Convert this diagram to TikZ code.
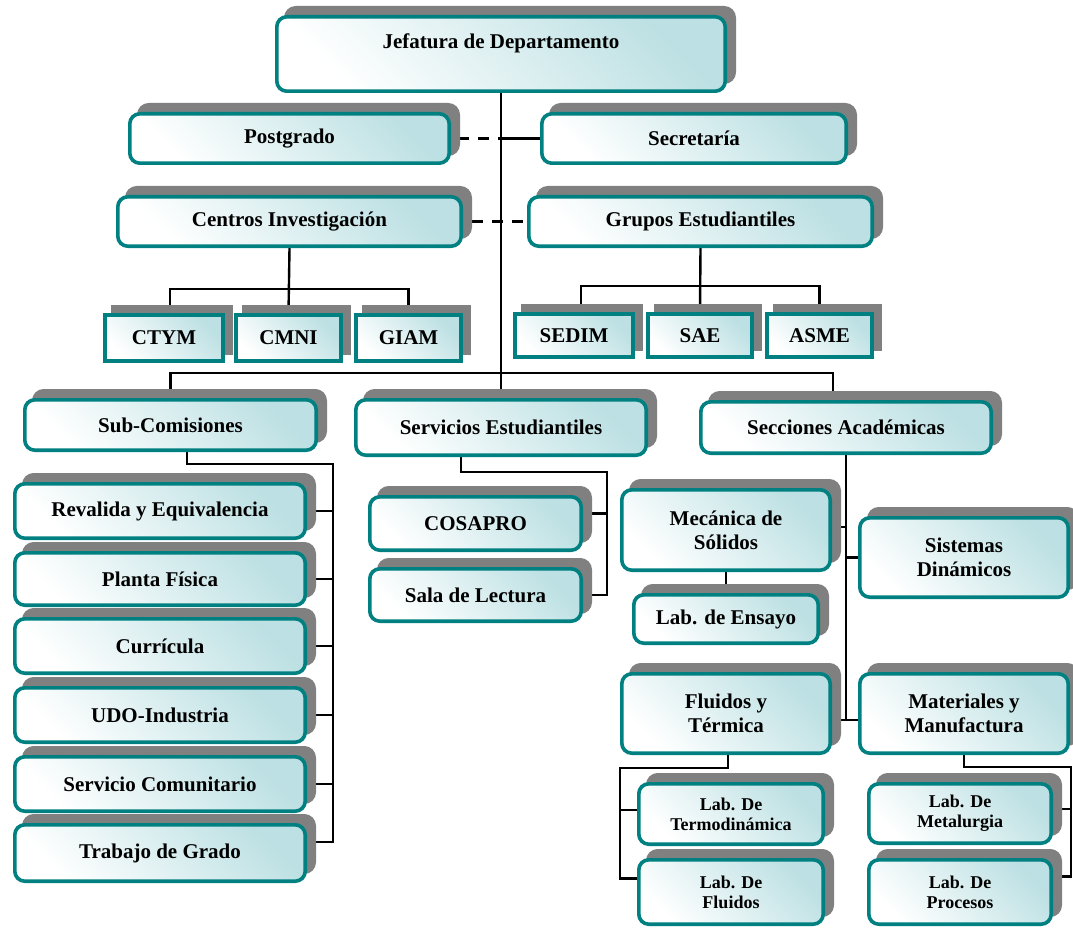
\documentclass[tikz,border=0pt]{standalone}
\usepackage{fontspec}
\setmainfont{Liberation Serif}
\usetikzlibrary{shadows}
\definecolor{tealb}{RGB}{0,128,128}
\definecolor{cyanl}{RGB}{188,224,227}
\definecolor{shgray}{RGB}{128,128,128}
\pgfdeclarelayer{back}\pgfdeclarelayer{bg}\pgfsetlayers{back,bg,main}
\tikzset{
 boxbase/.style={draw=tealb, line width=3.6pt, top color=cyanl, bottom color=white, shading angle=-45,
   inner sep=0pt, align=center, font=\bfseries\fontsize{21}{24}\selectfont},
 rbox/.style={boxbase, rounded corners=10pt,
   general shadow={fill=shgray, draw=shgray, line width=3.6pt, shadow xshift=9pt, shadow yshift=9pt}},
 sbox/.style={boxbase, sharp corners,
   general shadow={fill=shgray, draw=shgray, line width=3.6pt, shadow xshift=8pt, shadow yshift=8pt}},
 smalltxt/.style={font=\bfseries\fontsize{18}{20}\selectfont},
 lbl/.style={inner sep=0pt, font=\bfseries\fontsize{21}{24}\selectfont},
 conn/.style={draw=black, line width=2.4pt},
 dashconn/.style={conn, dash pattern=on 11pt off 9pt}
}
\newcommand\orgbox[7][rbox]{\node[#1,minimum width={#4pt-#2pt-3.6pt},minimum height={#5pt-#3pt-3.6pt}] (#6) at ({(#2+#4)/2},{(#3+#5)/2}) {#7};}
\begin{document}
\begin{tikzpicture}[x=1pt,y=-1pt]
\useasboundingbox (0,0) rectangle (1073,928);
\begin{pgfonlayer}{back}
\fill[white] (0,0) rectangle (1073,928);
\end{pgfonlayer}
% boxes
\orgbox{275}{15}{727}{93}{jef}{}
\node[lbl] (jeft) at (501,43) {Jefatura de Departamento};
\orgbox{128}{112}{451}{165}{post}{Postgrado}
\orgbox{540}{112}{848}{165}{sec}{Secretaría}
\orgbox{116}{195}{463}{248}{cent}{Centros Investigación}
\orgbox{527}{195}{874}{248}{grup}{Grupos Estudiantiles}
\orgbox[sbox]{103}{313}{225}{363}{ctym}{CTYM}
\orgbox[sbox]{234}{313}{343}{363}{cmni}{CMNI}
\orgbox[sbox]{354}{313}{463}{363}{giam}{GIAM}
\orgbox[sbox]{513}{312}{635}{359}{sedim}{SEDIM}
\orgbox[sbox]{646}{312}{754}{359}{sae}{SAE}
\orgbox[sbox]{765}{312}{874}{359}{asme}{ASME}
\orgbox{23}{398}{318}{452}{sub}{Sub-Comisiones}
\orgbox{354}{398}{648}{457}{serv}{Servicios Estudiantiles}
\orgbox{699}{400}{993}{455}{secc}{Secciones Académicas}
\orgbox{13}{482}{307}{540}{rev}{Revalida y Equivalencia}
\orgbox{13}{551}{307}{607}{pla}{Planta Física}
\orgbox{13}{617}{307}{675}{cur}{Currícula}
\orgbox{13}{686}{307}{744}{udo}{UDO-Industria}
\orgbox{13}{755}{307}{813}{ser}{Servicio Comunitario}
\orgbox{13}{823}{307}{883}{tra}{Trabajo de Grado}
\orgbox{368}{495}{583}{552}{cos}{COSAPRO}
\orgbox{368}{567}{583}{623}{sala}{Sala de Lectura}
\orgbox{620}{488}{832}{572}{mec}{Mecánica de\\Sólidos}
\orgbox{632}{593}{820}{645}{ens}{Lab. de Ensayo}
\orgbox{858}{516}{1070}{599}{sis}{Sistemas\\Dinámicos}
\orgbox{620}{672}{832}{755}{flu}{Fluidos y\\Térmica}
\orgbox{858}{672}{1070}{755}{mat}{Materiales y\\Manufactura}
\orgbox[rbox,smalltxt]{637}{782}{825}{846}{labt}{Lab. De\\Termodinámica}
\orgbox[rbox,smalltxt]{637}{858}{825}{926}{labf}{Lab. De\\Fluidos}
\orgbox[rbox,smalltxt]{867}{782}{1053}{845}{labm}{Lab. De\\Metalurgia}
\orgbox[rbox,smalltxt]{867}{858}{1053}{926}{labp}{Lab. De\\Procesos}
% connectors
\coordinate (cbar) at (289,289);
\coordinate (gbar) at (700,286);
\coordinate (mbar) at (501,373);
\coordinate (sct) at (333,464);
\coordinate (svt) at (607,472);
\coordinate (sect) at (846,720);
\coordinate (flt) at (620,768);
\coordinate (mt) at (1071,767);
\begin{pgfonlayer}{bg}
\draw[conn] (jef.south) -- (serv.north);
\draw[dashconn, dash phase=13pt] (post.east) -- (post.east -| jef.south);
\draw[conn] (sec.west) -- (sec.west -| jef.south);
\draw[dashconn, dash phase=11pt] (cent.east) -- (grup.west);
\draw[conn] (cent.south) -- (cmni.north);
\draw[conn] ([xshift=6pt]ctym.north) |- (cbar) -| (giam.north);
\draw[conn] (grup.south) -- (sae.north);
\draw[conn] ([xshift=7pt]sedim.north) |- (gbar) -| (asme.north);
\draw[conn] (sub.north) |- (mbar) -| ([xshift=-13pt]secc.north);
\draw[conn] ([xshift=16.5pt]sub.south) |- (sct) |- ([yshift=11pt]tra.east);
\foreach \b in {rev,pla,cur,udo,ser} \draw[conn] (\b.east) -- (\b.east -| sct);
\draw[conn] ([xshift=-40pt]serv.south) |- (svt) |- (sala.east);
\draw[conn] ([yshift=10pt]cos.east) -- ([yshift=10pt]cos.east -| svt);
\draw[conn] (secc.south) -- (sect);
\draw[conn] ([yshift=-6.5pt]flu.east) -- ([yshift=-6.5pt]mat.west);
\draw[conn] ([yshift=3pt]mec.east) -- ([yshift=3pt]mec.east -| sect);
\draw[conn] (sis.west) -- (sis.west -| sect);
\draw[conn] (mec.south) -- (ens.north);
\draw[conn] ([xshift=2pt]flu.south) |- (flt) |- ([yshift=13.5pt]labf.west);
\draw[conn] ([yshift=4pt]labt.west) -- ([yshift=4pt]labt.west -| flt);
\draw[conn] (mat.south) |- (mt) |- ([yshift=15.5pt]labp.east);
\draw[conn] ([yshift=4.5pt]labm.east) -- ([yshift=4.5pt]labm.east -| mt);
\end{pgfonlayer}
\end{tikzpicture}
\end{document}
